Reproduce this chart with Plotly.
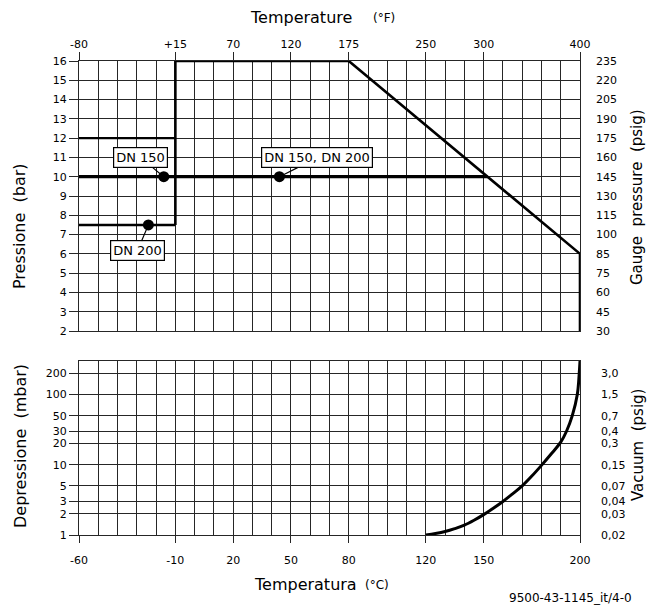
import math
import plotly.graph_objects as go

# ---------------- data ----------------
# top chart: pressure (bar) vs temperature (degC)
envelope_t = [-10, -10, 80, 200, 200]
envelope_p = [7.5, 16, 16, 6, 2]
dn150_low_t = [-60, -10]
dn150_low_p = [12, 12]
dn200_low_t = [-60, -10]
dn200_low_p = [7.5, 7.5]
bar10_t = [-60, 152]
bar10_p = [10, 10]
dot_t = [-16, 44, -24]
dot_p = [10, 10, 7.5]

# bottom chart: depression (mbar) vs temperature (degC)
vac_t = [120, 125, 130, 135, 140, 145, 150, 155, 160, 165, 170, 175, 180, 185, 190,
         193, 196, 198.6, 199.6, 200]
vac_mbar = [1, 1.05, 1.12, 1.23, 1.38, 1.62, 1.95, 2.4, 3.0, 3.85, 5.0, 6.9, 9.8, 14.2, 21,
            30, 50, 100, 200, 300]

# axis ticks
c_ticks = [-60, -10, 20, 50, 80, 120, 150, 200]
c_labels = ["-60", "-10", "20", "50", "80", "120", "150", "200"]
f_labels = ["-80", "+15", "70", "120", "175", "250", "300", "400"]
bar_ticks = list(range(2, 17))
psig_labels = ["30", "45", "60", "75", "85", "100", "115", "130", "145",
               "160", "175", "190", "205", "220", "235"]
mbar_ticks = [1, 2, 3, 5, 10, 20, 30, 50, 100, 200]
vac_psig_labels = ["0,02", "0,03", "0,04", "0,07", "0,15", "0,3", "0,4",
                   "0,7", "1,5", "3,0"]

# ---------------- layout geometry ----------------
W, H = 647, 605
ML, MR, MT, MB = 79, 67, 61, 70
PW = W - ML - MR
PH = H - MT - MB


def px(xw):
    return (xw - ML) / PW


def py(yw):
    return (H - MB - yw) / PH


FONT = "DejaVu Sans"
GRID = "#262626"
fig = go.Figure()

line_kw = dict(mode="lines", hoverinfo="skip", showlegend=False)
fig.add_trace(go.Scatter(x=dn150_low_t, y=dn150_low_p, line=dict(color="black", width=2.2), xaxis="x", yaxis="y", **line_kw))
fig.add_trace(go.Scatter(x=dn200_low_t, y=dn200_low_p, line=dict(color="black", width=2.6), xaxis="x", yaxis="y", **line_kw))
fig.add_trace(go.Scatter(x=bar10_t, y=bar10_p, line=dict(color="black", width=3.2), xaxis="x", yaxis="y", **line_kw))
fig.add_trace(go.Scatter(x=envelope_t, y=envelope_p, line=dict(color="black", width=2.6), xaxis="x", yaxis="y", **line_kw))
fig.add_trace(go.Scatter(x=dot_t, y=dot_p, mode="markers", marker=dict(color="black", size=11),
                         hoverinfo="skip", showlegend=False, xaxis="x", yaxis="y"))
fig.add_trace(go.Scatter(x=vac_t, y=vac_mbar, line=dict(color="black", width=3, shape="spline", smoothing=1),
                         xaxis="x2", yaxis="y2", **line_kw))
# invisible traces so overlay axes are drawn
fig.add_trace(go.Scatter(x=[None], y=[None], xaxis="x3", yaxis="y", showlegend=False))
fig.add_trace(go.Scatter(x=[None], y=[None], xaxis="x", yaxis="y3", showlegend=False))
fig.add_trace(go.Scatter(x=[None], y=[None], xaxis="x4", yaxis="y2", showlegend=False))
fig.add_trace(go.Scatter(x=[None], y=[None], xaxis="x2", yaxis="y4", showlegend=False))

top_dom = [py(331), 1]
bot_dom = [0, py(361)]
tickfont = dict(family=FONT, size=11, color="black")
grid_x = dict(range=[-60, 200], tickmode="linear", tick0=-60, dtick=10, showgrid=True,
              gridcolor=GRID, gridwidth=1.3, showticklabels=False, ticks="", zeroline=False,
              showline=True, mirror=True, linecolor=GRID, linewidth=1.3, fixedrange=True)

fig.update_layout(
    width=W, height=H, margin=dict(l=ML, r=MR, t=MT, b=MB),
    paper_bgcolor="white", plot_bgcolor="white", showlegend=False,
    font=dict(family=FONT, color="black"),
    xaxis=dict(domain=[0, 1], anchor="y", **grid_x),
    xaxis2=dict(domain=[0, 1], anchor="y2", **grid_x),
    xaxis3=dict(overlaying="x", anchor="y", side="top", range=[-60, 200], tickmode="array",
                tickvals=c_ticks, ticktext=f_labels, ticks="outside", ticklen=8,
                tickcolor=GRID, tickwidth=1.3, showgrid=False, zeroline=False,
                tickfont=tickfont, ticklabelstandoff=0),
    xaxis4=dict(overlaying="x2", anchor="y2", side="bottom", range=[-60, 200], tickmode="array",
                tickvals=c_ticks, ticktext=c_labels, ticks="outside", ticklen=7,
                tickcolor=GRID, tickwidth=1.3, showgrid=False, zeroline=False,
                tickfont=tickfont, ticklabelstandoff=8),
    yaxis=dict(domain=top_dom, anchor="x", range=[2, 16], tickmode="array", tickvals=bar_ticks,
               ticktext=[str(v) for v in bar_ticks], showgrid=True, gridcolor=GRID, gridwidth=1.3,
               ticks="outside", ticklen=9, tickcolor=GRID, tickwidth=1.3, zeroline=False,
               tickfont=tickfont, ticklabelstandoff=0, showline=True, mirror=True,
               linecolor=GRID, linewidth=1.3),
    yaxis3=dict(overlaying="y", anchor="x", side="right", range=[2, 16], tickmode="array",
                tickvals=bar_ticks, ticktext=psig_labels, showgrid=False, ticks="",
                zeroline=False, tickfont=tickfont, ticklabelstandoff=15),
    yaxis2=dict(domain=bot_dom, anchor="x2", type="log", range=[0, math.log10(300)],
                tickmode="array", tickvals=mbar_ticks, ticktext=[str(v) for v in mbar_ticks],
                showgrid=True, gridcolor=GRID, gridwidth=1.3, ticks="outside", ticklen=9,
                tickcolor=GRID, tickwidth=1.3, zeroline=False, tickfont=tickfont,
                ticklabelstandoff=0, showline=True, mirror=True, linecolor=GRID, linewidth=1.3),
    yaxis4=dict(overlaying="y2", anchor="x2", side="right", type="log", range=[0, math.log10(300)],
                tickmode="array", tickvals=mbar_ticks, ticktext=vac_psig_labels, showgrid=False,
                ticks="", zeroline=False, tickfont=tickfont, ticklabelstandoff=20),
)

ann = []
titles = [
    ("Temperature", 301, 17, 16, 0),
    ("(°F)", 384, 18, 12, 0),
    ("Temperatura", 305, 584, 16, 0),
    ("(°C)", 377, 585, 12, 0),
    ("Pressione  (bar)", 20, 226, 16, -90),
    ("Depressione  (mbar)", 20, 446, 16, -90),
    ("Gauge  pressure  (psig)", 637, 197, 15, -90),
    ("Vacuum  (psig)", 638, 445, 15, -90),
    ("9500-43-1145_it/4-0", 570, 598, 12, 0),
]
for text, xp, yp, size, ang in titles:
    ann.append(dict(text=text, x=px(xp), y=py(yp), xref="paper", yref="paper",
                    xanchor="center", yanchor="middle", showarrow=False, textangle=ang,
                    font=dict(family=FONT, size=size, color="black")))

labels = [
    ("DN 150", dot_t[0], dot_p[0], -23, -19),
    ("DN 150, DN 200", dot_t[1], dot_p[1], 38, -19),
    ("DN 200", dot_t[2], dot_p[2], -11, 26),
]
for text, xt, yt, axp, ayp in labels:
    ann.append(dict(text=text, x=xt, y=yt, xref="x", yref="y", ax=axp, ay=ayp,
                    showarrow=True, arrowhead=0, arrowwidth=1.2, arrowcolor="black",
                    standoff=4, bgcolor="white", bordercolor="black", borderwidth=1.2,
                    borderpad=2, font=dict(family=FONT, size=13, color="black")))
fig.update_layout(annotations=ann)

fig.write_html(
    "out.html",
    config={"displayModeBar": False},
    post_script="document.body.style.margin='0';document.body.style.overflow='hidden';",
)
